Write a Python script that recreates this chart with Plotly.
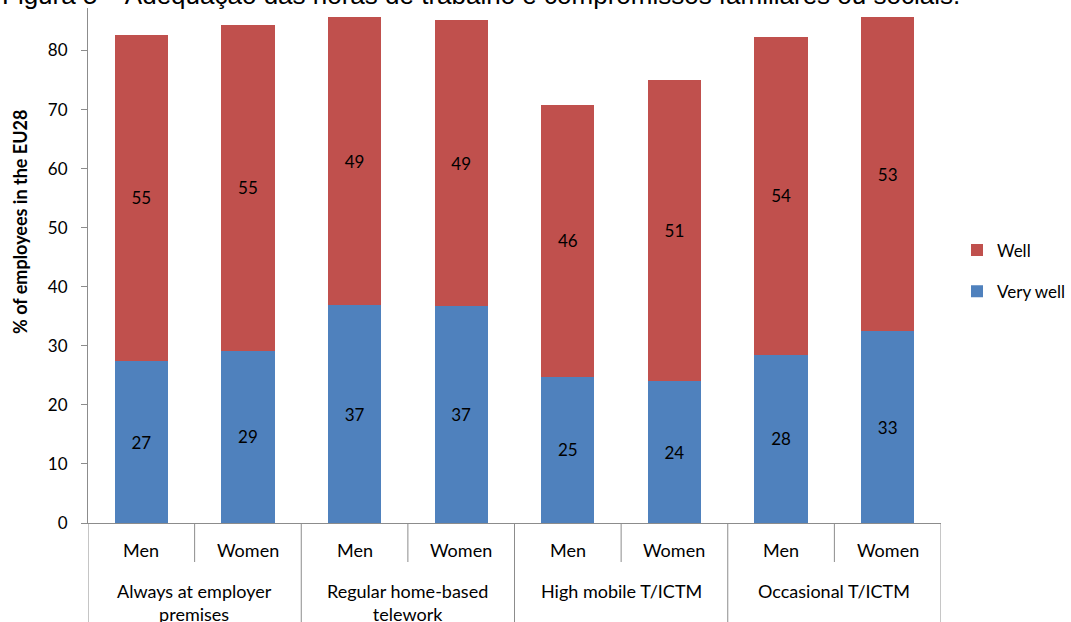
import plotly.graph_objects as go

group_names = ["Always at employer<br>premises", "Regular home-based<br>telework",
               "High mobile T/ICTM", "Occasional T/ICTM"]
sex_names = ["Men", "Women"]

groups = [g for g in group_names for _ in sex_names]
sexes = sex_names * len(group_names)

very_well = [27.4, 29.2, 36.9, 36.7, 24.8, 24.0, 28.5, 32.5]
well = [55.3, 55.1, 48.7, 48.5, 45.9, 51.0, 53.8, 53.1]
very_well_labels = ["27", "29", "37", "37", "25", "24", "28", "33"]
well_labels = ["55", "55", "49", "49", "46", "51", "54", "53"]

y_ticks = [0, 10, 20, 30, 40, 50, 60, 70, 80]

FONT = "Lato, Open Sans, sans-serif"
BLUE = "#4F81BD"
RED = "#C0504D"
AXIS = "#8C8C8C"

W, H = 1071, 622
ML, MR, MT, MB = 88, 130, 8, 99
PW, PH = W - ML - MR, H - MT - MB


def py(px):  # pixel offset below the x axis -> paper y
    return -px / PH


cats = [f"{g}|{s}" for g, s in zip(groups, sexes)]

fig = go.Figure()
fig.add_trace(go.Bar(
    x=cats, y=very_well, name="Very well", legendgroup="vw", legendrank=2,
    marker=dict(color=BLUE, line=dict(width=0)), width=0.5,
    text=very_well_labels, textposition="inside", insidetextanchor="middle",
    textangle=0, textfont=dict(color="black", size=17, family=FONT),
))
fig.add_trace(go.Bar(
    x=cats, y=well, name="Well", legendgroup="w", legendrank=1,
    marker=dict(color=RED, line=dict(width=0)), width=0.5,
    text=well_labels, textposition="inside", insidetextanchor="middle",
    textangle=0, textfont=dict(color="black", size=17, family=FONT),
))

# category labels (sex row and group row)
for i, s in enumerate(sexes):
    fig.add_annotation(text=s, xref="x", yref="paper", x=i, y=py(27),
                       yanchor="middle", showarrow=False,
                       font=dict(family=FONT, size=18, color="black"))
for k, g in enumerate(group_names):
    fig.add_annotation(text=g, xref="x", yref="paper", x=2 * k + 0.5, y=py(55),
                       yanchor="top", showarrow=False,
                       font=dict(family=FONT, size=18, color="black"))

# dividers
for k in range(len(group_names) + 1):
    fig.add_shape(type="line", xref="x", yref="paper",
                  x0=2 * k - 0.5, x1=2 * k - 0.5, y0=0, y1=py(110),
                  line=dict(color=AXIS, width=1))
for k in range(len(group_names)):
    fig.add_shape(type="line", xref="x", yref="paper",
                  x0=2 * k + 0.5, x1=2 * k + 0.5, y0=0, y1=py(39),
                  line=dict(color=AXIS, width=1))

# y-axis title
fig.add_annotation(text="<b>% of employees in the EU28</b>", textangle=-90,
                   xref="paper", yref="paper", x=(20 - ML) / PW, y=(523 - 222) / PH,
                   xanchor="center", yanchor="middle", showarrow=False,
                   font=dict(family=FONT, size=18, color="black"))

# figure caption, cut off at the top as in the source
fig.add_annotation(
    text="Figura 5 – Adequação das horas de trabalho e compromissos familiares ou sociais.",
    xref="paper", yref="paper", x=-ML / PW, y=1, xanchor="left", yanchor="bottom",
    yshift=-4, showarrow=False,
    font=dict(family="Liberation Sans, Arial", size=26, color="black"),
)

fig.update_layout(
    width=W, height=H,
    margin=dict(l=ML, r=MR, t=MT, b=MB, autoexpand=False),
    barmode="stack",
    plot_bgcolor="white", paper_bgcolor="white",
    font=dict(family=FONT, color="black", size=17),
    showlegend=True,
    legend=dict(x=(957 - ML) / PW, y=(523 - 271) / PH, xanchor="left", yanchor="middle",
                traceorder="grouped", font=dict(size=17, family=FONT),
                itemwidth=30, tracegroupgap=16, bgcolor="rgba(0,0,0,0)"),
    xaxis=dict(type="category", range=[-0.5, 7.5], showline=True, linecolor=AXIS,
               linewidth=1, ticks="", showticklabels=False, showgrid=False),
    yaxis=dict(range=[0, 87.2], tickvals=y_ticks, showline=True, linecolor=AXIS,
               linewidth=1, ticks="outside", ticklen=6, tickcolor=AXIS,
               ticklabelstandoff=10,
               showgrid=False, zeroline=False,
               tickfont=dict(size=17, family=FONT, color="black")),
)

fig.write_html("out.html")
